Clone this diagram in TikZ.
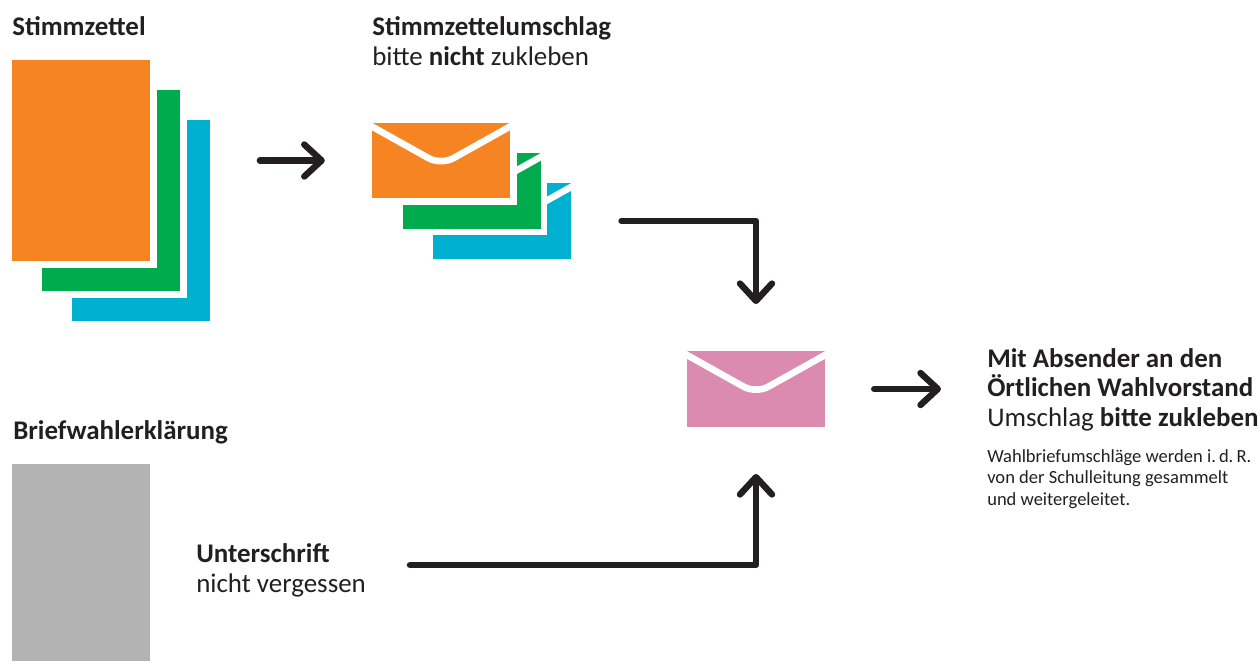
\documentclass[tikz,border=0pt]{standalone}
\usepackage{fontspec}
\setmainfont{Carlito}
\usetikzlibrary{arrows.meta}

\definecolor{sheetorange}{HTML}{F68423}
\definecolor{sheetgreen}{HTML}{00AB4E}
\definecolor{sheetblue}{HTML}{00B0D1}
\definecolor{letterpink}{HTML}{DB8AB0}
\definecolor{formgrey}{HTML}{B3B3B3}
\definecolor{flowdark}{HTML}{231F20}

\tikzset{
  sheet/.style={fill=#1, draw=white, line width=4.9pt, inner sep=0pt, minimum width=108.4pt, minimum height=155.6pt},
  letter/.style={fill=#1, draw=white, line width=4.9pt, inner sep=0pt, minimum width=108.4pt, minimum height=61.5pt,
    path picture={\draw[white, line width=5pt, rounded corners=10.5pt, shift={(path picture bounding box.center)}]
      (-78,-39) -- (0,4.6) -- (78,-39);}},
  flow/.style={draw=flowdark, line width=4.8pt, line cap=round, line join=round,
    -{Straight Barb[length=13pt, width=24pt, round]}},
  head/.style={anchor=base west, inner sep=0pt, text=flowdark, font=\fontsize{20.2}{22}\selectfont, align=left},
  small/.style={anchor=base west, inner sep=0pt, text=flowdark, font=\fontsize{13.9}{16.1}\selectfont, align=left}
}

\begin{document}
\begin{tikzpicture}[x=0.75pt, y=-0.75pt]
  \useasboundingbox (0,0) rectangle (1260,661);
  % stack of ballot papers
  \node[sheet=sheetblue] (paperBlue) at (141,220.5) {};
  \node[sheet=sheetgreen] (paperGreen) at (111,190.5) {};
  \node[sheet=sheetorange] (paperOrange) at (81,160.5) {};
  \node[head] (paperText) at (12,35.5) {\textbf{Stimmzettel}};
  % stack of inner envelopes
  \node[letter=sheetblue] (envBlue) at (502,221) {};
  \node[letter=sheetgreen] (envGreen) at (471.5,191) {};
  \node[letter=sheetorange] (envOrange) at (441,160.5) {};
  \node[head] (envText) at (372,65) {\textbf{Stimmzettelumschlag}\\bitte \textbf{nicht} zukleben};
  % outer envelope
  \node[letter=letterpink] (envPink) at (756,389) {};
  \node[head] (sendText) at (987,426) {\textbf{Mit Absender an den}\\\textbf{Örtlichen Wahlvorstand}\\Umschlag \textbf{bitte zukleben}};
  \node[small] (noteText) at (987,505) {Wahlbriefumschläge werden i.\,d.\,R.\\von der Schulleitung gesammelt\\und weitergeleitet.};
  % declaration form
  \node[head] (formText) at (13,439) {\textbf{Briefwahlerklärung}};
  \node[fill=formgrey, inner sep=0pt, minimum width=103.5pt, minimum height=147.75pt] (formGrey) at (81,562.5) {};
  \node[head] (signText) at (196,592) {\textbf{Unterschrift}\\nicht vergessen};
  \coordinate (signStart) at (410,565);
  % arrows
  \draw[flow, shorten <=77.5pt, shorten >=30.5pt] (paperOrange.east) -- (envOrange.west);
  \draw[flow, shorten <=33pt, shorten >=30.5pt] (envBlue.east) -| (envPink.north);
  \draw[flow, shorten >=30.5pt] (signStart) -| (envPink.south);
  \draw[flow, shorten <=32pt, shorten >=34.5pt] (envPink.east) -- (sendText.west |- envPink);
\end{tikzpicture}
\end{document}
